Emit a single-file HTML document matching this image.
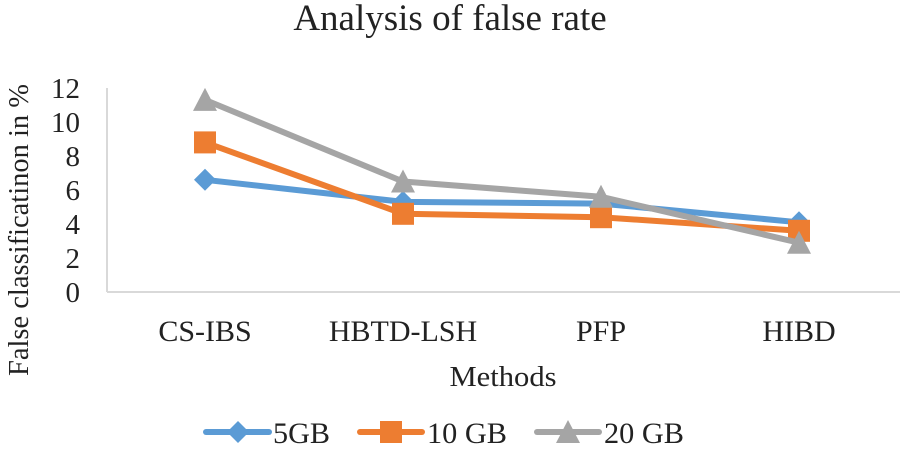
<!DOCTYPE html>
<html><head><meta charset="utf-8"><style>
body{margin:0;background:#fff;}
svg text{font-family:"Liberation Serif",serif;fill:#222;}
</style></head><body>
<svg width="900" height="448" xmlns="http://www.w3.org/2000/svg">
<text x="450" y="30" font-size="37" text-anchor="middle">Analysis of false rate</text>
<text transform="translate(28,230) rotate(-90)" font-size="29" text-anchor="middle" textLength="292" lengthAdjust="spacingAndGlyphs">False classificatinon in %</text>
<text x="503" y="386" font-size="29" text-anchor="middle" textLength="107" lengthAdjust="spacingAndGlyphs">Methods</text>
<line x1="107" y1="88" x2="107" y2="292" stroke="#d9d9d9" stroke-width="2"/>
<line x1="107" y1="292" x2="900" y2="292" stroke="#d9d9d9" stroke-width="2"/>
<g id="yticks"></g><g id="xticks"></g><g id="series"></g>
<g>
<g>
<line x1="206" y1="432" x2="269" y2="432" stroke="#5b9bd5" stroke-width="6" stroke-linecap="round"/>
<polygon points="238,421 249,432 238,443 227,432" fill="#5b9bd5"/>
<text x="273" y="443" font-size="30" textLength="57" lengthAdjust="spacingAndGlyphs">5GB</text></g>
<g>
<line x1="360" y1="432" x2="422" y2="432" stroke="#ed7d31" stroke-width="6" stroke-linecap="round"/>
<rect x="380" y="421" width="22" height="22" fill="#ed7d31"/>
<text x="427" y="443" font-size="30" textLength="80" lengthAdjust="spacingAndGlyphs">10 GB</text></g>
<g>
<line x1="537" y1="432" x2="599" y2="432" stroke="#a5a5a5" stroke-width="6" stroke-linecap="round"/>
<polygon points="568,420 580,443 556,443" fill="#a5a5a5"/>
<text x="604" y="443" font-size="30" textLength="80" lengthAdjust="spacingAndGlyphs">20 GB</text></g>
</g>
</svg>
<script>
const categories=["CS-IBS","HBTD-LSH","PFP","HIBD"];
const s5=[6.6,5.3,5.2,4.1];
const s10=[8.8,4.6,4.4,3.6];
const s20=[11.3,6.5,5.6,2.9];
const yTicks=[0,2,4,6,8,10,12];
const NS="http://www.w3.org/2000/svg";
const y=v=>292-v*(204/12);
const x=i=>205+i*198;
function mk(t,a,p){const e=document.createElementNS(NS,t);for(const k in a)e.setAttribute(k,a[k]);p.appendChild(e);return e;}
const yt=document.getElementById('yticks');
yTicks.forEach(v=>{const t=mk('text',{x:80,y:y(v)+10,'font-size':29,'text-anchor':'end'},yt);t.textContent=v;

});
const xt=document.getElementById('xticks');
categories.forEach((c,i)=>{const t=mk('text',{x:x(i),y:341,'font-size':30,'text-anchor':'middle'},xt);t.textContent=c;

});
const sg=document.getElementById('series');
function series(vals,color,shape,name){
const g=mk('g',{},sg);


mk('polyline',{points:vals.map((v,i)=>x(i)+','+y(v)).join(' '),fill:'none',stroke:color,'stroke-width':6,'stroke-linejoin':'round'},g);
vals.forEach((v,i)=>{const cx=x(i),cy=y(v);let m;
if(shape==='d')m=mk('polygon',{points:`${cx},${cy-11} ${cx+11},${cy} ${cx},${cy+11} ${cx-11},${cy}`,fill:color},g);
else if(shape==='s')m=mk('rect',{x:cx-11,y:cy-11,width:22,height:22,fill:color},g);
else m=mk('polygon',{points:`${cx},${cy-12} ${cx+12},${cy+11} ${cx-12},${cy+11}`,fill:color},g);

});}
series(s5,'#5b9bd5','d','series-5gb');
series(s10,'#ed7d31','s','series-10gb');
series(s20,'#a5a5a5','t','series-20gb');
</script>
</body></html>
